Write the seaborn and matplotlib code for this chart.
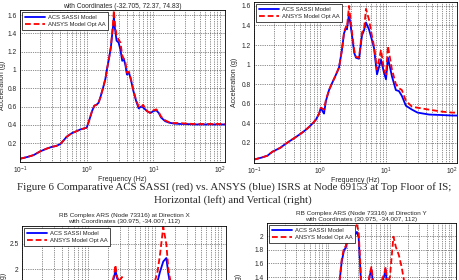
import numpy as np
import pandas as pd
import matplotlib
matplotlib.use("Agg")
import matplotlib.pyplot as plt
import seaborn as sns
from matplotlib.ticker import FuncFormatter, LogLocator, MultipleLocator, NullFormatter, FixedLocator

# ---------------- data ----------------
labels = ["ACS SASSI Model", "ANSYS Model Opt AA"]

# Top-left: horizontal ISRS, node 69153
tl_freq = [0.1, 0.13, 0.16, 0.2, 0.25, 0.3, 0.35, 0.4, 0.45, 0.5, 0.6, 0.7, 0.8, 0.9, 1.0,
           1.1, 1.2, 1.3, 1.4, 1.5, 1.6, 1.75, 1.9, 2.0, 2.15, 2.3, 2.4, 2.5, 2.55, 2.65,
           2.8, 3.0, 3.2, 3.4, 3.6, 3.8, 4.0, 4.3, 4.6, 5.0, 5.5, 6.0, 6.5, 7.0, 7.5, 8.0,
           9.0, 10, 11, 12, 13, 15, 17, 20, 25, 30, 40, 50, 70, 100, 118]
tl_red = [0.03, 0.05, 0.07, 0.11, 0.14, 0.16, 0.17, 0.19, 0.23, 0.27, 0.31, 0.33, 0.35, 0.36, 0.37,
          0.46, 0.55, 0.61, 0.62, 0.64, 0.70, 0.80, 0.90, 1.00, 1.12, 1.25, 1.40, 1.55, 1.65, 1.50,
          1.38, 1.33, 1.30, 1.16, 1.12, 1.08, 0.97, 0.98, 0.90, 0.78, 0.67, 0.60, 0.59, 0.62, 0.58, 0.55,
          0.53, 0.56, 0.57, 0.54, 0.49, 0.45, 0.43, 0.42, 0.42, 0.415, 0.41, 0.41, 0.41, 0.41, 0.41]
tl_blue = [0.03, 0.05, 0.07, 0.11, 0.14, 0.16, 0.17, 0.19, 0.23, 0.27, 0.31, 0.33, 0.35, 0.36, 0.37,
           0.46, 0.55, 0.61, 0.62, 0.64, 0.70, 0.80, 0.90, 1.00, 1.12, 1.25, 1.38, 1.50, 1.58, 1.45,
           1.32, 1.30, 1.22, 1.10, 1.12, 1.05, 0.95, 0.97, 0.89, 0.77, 0.66, 0.58, 0.60, 0.59, 0.57, 0.55,
           0.53, 0.55, 0.56, 0.53, 0.48, 0.44, 0.425, 0.415, 0.41, 0.41, 0.405, 0.405, 0.405, 0.405, 0.405]

# Top-right: vertical ISRS, node 69153
tr_freq = [0.1, 0.13, 0.16, 0.19, 0.25, 0.3, 0.35, 0.43, 0.5, 0.6, 0.7, 0.8, 0.87, 0.97, 1.03,
           1.1, 1.15, 1.23, 1.37, 1.52, 1.7, 1.94, 2.15, 2.31, 2.48, 2.56, 2.75, 3.05, 3.3, 3.51,
           3.9, 4.33, 4.64, 4.97, 5.52, 6.13, 6.58, 7.3, 8.4, 9.3, 10.0, 10.7, 12.3, 14.1, 15.7,
           17.4, 20, 24.8, 30, 45, 70, 100, 119]
tr_red = [0.03, 0.05, 0.07, 0.11, 0.15, 0.19, 0.22, 0.26, 0.29, 0.33, 0.37, 0.41, 0.44, 0.50, 0.56,
          0.55, 0.54, 0.64, 0.74, 0.81, 0.88, 0.97, 1.15, 1.33, 1.39, 1.38, 1.60, 1.33, 1.15, 1.08,
          1.07, 1.33, 1.36, 1.57, 1.46, 1.29, 1.19, 0.95, 1.15, 0.95, 0.90, 1.19, 0.95, 0.80, 0.76,
          0.74, 0.63, 0.57, 0.56, 0.54, 0.52, 0.51, 0.51]
tr_blue = [0.03, 0.05, 0.07, 0.11, 0.15, 0.19, 0.22, 0.26, 0.29, 0.33, 0.37, 0.41, 0.44, 0.50, 0.56,
           0.52, 0.50, 0.63, 0.74, 0.81, 0.88, 0.97, 1.15, 1.32, 1.38, 1.36, 1.52, 1.30, 1.12, 1.07,
           1.06, 1.30, 1.35, 1.43, 1.36, 1.25, 1.17, 0.90, 1.05, 0.92, 0.85, 1.07, 0.88, 0.74, 0.73,
           0.68, 0.58, 0.54, 0.51, 0.49, 0.485, 0.48, 0.48]

# Bottom-left: RB complex ARS, direction X
bl_freq = [0.1, 0.2, 0.3, 0.5, 0.7, 1.0, 1.3, 1.6, 2.0, 2.3, 2.45, 2.55, 2.7, 2.9, 3.2, 3.5,
           4.0, 5.0, 6.0, 7.0, 8.0, 9.0, 10, 11, 12, 13.4, 14.9, 16, 18, 20, 25, 30, 50, 100, 118]
bl_red = [0.02, 0.08, 0.15, 0.30, 0.45, 0.70, 0.95, 1.20, 1.50, 1.75, 1.90, 2.08, 1.85, 1.75, 1.84, 1.60,
          1.45, 1.40, 1.35, 1.40, 1.50, 1.60, 1.75, 1.95, 2.30, 2.84, 2.50, 2.00, 1.60, 1.30, 1.00, 0.85, 0.75, 0.72, 0.72]
bl_blue = [0.02, 0.08, 0.15, 0.30, 0.45, 0.70, 0.95, 1.20, 1.50, 1.72, 1.85, 1.98, 1.82, 1.72, 1.70, 1.55,
           1.42, 1.38, 1.33, 1.36, 1.45, 1.52, 1.60, 1.75, 1.95, 2.15, 2.22, 1.90, 1.50, 1.25, 0.97, 0.83, 0.74, 0.71, 0.71]

# Bottom-right: RB complex ARS, direction Y
br_freq = [0.1, 0.2, 0.4, 0.7, 1.0, 1.3, 1.5, 1.64, 1.8, 1.9, 2.05, 2.3, 2.57, 2.9, 3.1, 3.4,
           3.8, 4.3, 4.7, 5.0, 5.3, 6.0, 7.0, 8.1, 8.5, 9.0, 10, 11.4, 12.5, 14, 15.5, 16.6,
           19, 25, 40, 100, 119]
br_red = [0.02, 0.06, 0.15, 0.35, 0.60, 0.95, 1.30, 1.65, 1.84, 1.84, 1.99, 2.09, 2.13, 2.16, 2.06, 1.36,
          1.00, 1.20, 1.45, 1.55, 1.35, 1.20, 1.30, 1.45, 1.55, 1.30, 1.40, 1.99, 1.84, 1.72, 1.55, 1.40,
          1.10, 0.85, 0.70, 0.65, 0.65]
br_blue = [0.02, 0.06, 0.15, 0.35, 0.60, 0.95, 1.30, 1.62, 1.80, 1.82, 1.95, 2.00, 1.99, 2.06, 1.98, 1.30,
           0.98, 1.18, 1.42, 1.52, 1.32, 1.15, 1.25, 1.42, 1.52, 1.25, 1.20, 1.30, 1.25, 1.15, 1.05, 0.98,
           0.85, 0.72, 0.62, 0.58, 0.58]

# visible y tick values
tl_yticks = [0.2, 0.4, 0.6, 0.8, 1.0, 1.2, 1.4, 1.6]
tr_yticks = [0.2, 0.4, 0.6, 0.8, 1.0, 1.2, 1.4, 1.6]
bl_yticks = [2.0, 2.5]
br_yticks = [1.4, 1.6, 1.8, 2.0]

tl_title = "with Coordinates (-32.705, 72.37, 74.83)"
bl_title = "RB Complex ARS (Node 73316) at Direction X\nwith Coordinates (30.975, -34.007, 112)"
br_title = "RB Complex ARS (Node 73316) at Direction Y\nwith Coordinates (30.975, -34.007, 112)"
caption1 = "Figure 6 Comparative ACS SASSI (red) vs. ANSYS (blue) ISRS at Node 69153 at Top Floor of IS;"
caption2 = "Horizontal (left) and Vertical (right)"

# ---------------- style ----------------
sns.set_style("white")
plt.rcParams["font.family"] = ["Liberation Sans", "DejaVu Sans"]
plt.rcParams["mathtext.fontset"] = "custom"
plt.rcParams["mathtext.rm"] = "Liberation Sans"
plt.rcParams["mathtext.it"] = "Liberation Sans"

W, H = 459, 280
fig = plt.figure(figsize=(W / 100, H / 100), dpi=100)
fig.patch.set_facecolor("white")


def rect(x0, y0, x1, y1):
    return [x0 / W, 1 - y1 / H, (x1 - x0) / W, (y1 - y0) / H]


fmt = FuncFormatter(lambda v, p: "" if abs(v) < 1e-9 else f"{v:g}")


def panel(px, freq, blue, red, ylim, yticks, xmax, bottom_visible=True):
    ax = fig.add_axes(rect(*px))
    n = len(freq)
    df = pd.DataFrame({
        "Frequency (Hz)": list(freq) + list(freq),
        "Acceleration (g)": list(blue) + list(red),
        "Model": [labels[0]] * n + [labels[1]] * n,
    })
    sns.lineplot(data=df, x="Frequency (Hz)", y="Acceleration (g)", hue="Model",
                 style="Model", hue_order=labels, style_order=labels,
                 palette={labels[0]: "#0000ff", labels[1]: "#ff0000"},
                 dashes={labels[0]: "", labels[1]: (3.2, 1.6)},
                 linewidth=1.3, estimator=None, sort=False, ax=ax)
    ax.set_xscale("log")
    ax.set_xlim(0.1, xmax)
    ax.set_ylim(*ylim)
    ax.yaxis.set_major_locator(FixedLocator(yticks))
    ax.yaxis.set_major_formatter(fmt)
    ax.xaxis.set_major_locator(LogLocator(base=10, numticks=10))
    ax.xaxis.set_minor_locator(LogLocator(base=10, subs=np.arange(2, 10), numticks=20))
    ax.xaxis.set_minor_formatter(NullFormatter())
    ax.grid(True, which="major", axis="both", linestyle=(0, (1, 1.6)), color="#222222", linewidth=0.5)
    ax.grid(True, which="minor", axis="x", linestyle=(0, (1, 1.6)), color="#222222", linewidth=0.5)
    ax.tick_params(which="both", direction="in", labelsize=4.8, pad=2, width=0.5, color="black")
    ax.tick_params(which="major", length=2.5)
    ax.tick_params(which="minor", length=1.5)
    ax.tick_params(axis="y", pad=2.5)
    for s in ax.spines.values():
        s.set_visible(True)
        s.set_color("black")
        s.set_linewidth(0.6)
    ax.set_ylabel("Acceleration (g)", fontsize=5)
    if bottom_visible:
        ax.set_xlabel("Frequency (Hz)", fontsize=5)
    else:
        ax.set_xlabel("")
        ax.tick_params(axis="x", labelbottom=False)
    h, l = ax.get_legend_handles_labels()
    hh = [h[l.index(labels[0])], h[l.index(labels[1])]]
    ax.legend(hh, labels, loc="upper left", fontsize=4.2, frameon=True, fancybox=False,
              edgecolor="black", framealpha=1, borderaxespad=0.35, handlelength=3.4,
              borderpad=0.45, labelspacing=0.35, handletextpad=0.6).get_frame().set_linewidth(0.5)
    return ax


# Top-left
ax1 = panel((20, 10, 225, 161.5), tl_freq, tl_blue, tl_red, (0, 1.655), tl_yticks, 118)
ax1.yaxis.set_label_coords(-0.068, 0.5)
ax1.xaxis.set_label_coords(0.5, -0.095)
ax1.set_title(tl_title, fontsize=4.8, pad=1.5)

# Top-right
ax2 = panel((254, 2, 457, 162.5), tr_freq, tr_blue, tr_red, (0, 1.64), tr_yticks, 119)
ax2.yaxis.set_label_coords(-0.08, 0.5)
ax2.xaxis.set_label_coords(0.5, -0.088)

# Bottom-left (extends below the page)
ax3 = panel((22, 226, 226, 226 + 2.86 * 50), bl_freq, bl_blue, bl_red, (0, 2.86), bl_yticks, 118,
            bottom_visible=False)
ax3.yaxis.set_label_coords(-0.075, 0.5)
ax3.set_title(bl_title, fontsize=4.6, pad=2, linespacing=1.25)

# Bottom-right (extends below the page)
ax4 = panel((267, 223, 456, 223 + 2.19 * 68.5), br_freq, br_blue, br_red, (0, 2.19), br_yticks, 119,
            bottom_visible=False)
ax4.yaxis.set_label_coords(-0.13, 0.5)
ax4.set_title(br_title, fontsize=4.6, pad=1.5, linespacing=1.25)

# Caption
fig.text(234 / W, 1 - 187.5 / H, caption1, ha="center", va="center",
         family=["Liberation Serif", "DejaVu Serif"], fontsize=7.8)
fig.text(233 / W, 1 - 200.5 / H, caption2, ha="center", va="center",
         family=["Liberation Serif", "DejaVu Serif"], fontsize=7.8)

fig.savefig("out.png", dpi=100, facecolor="white")
